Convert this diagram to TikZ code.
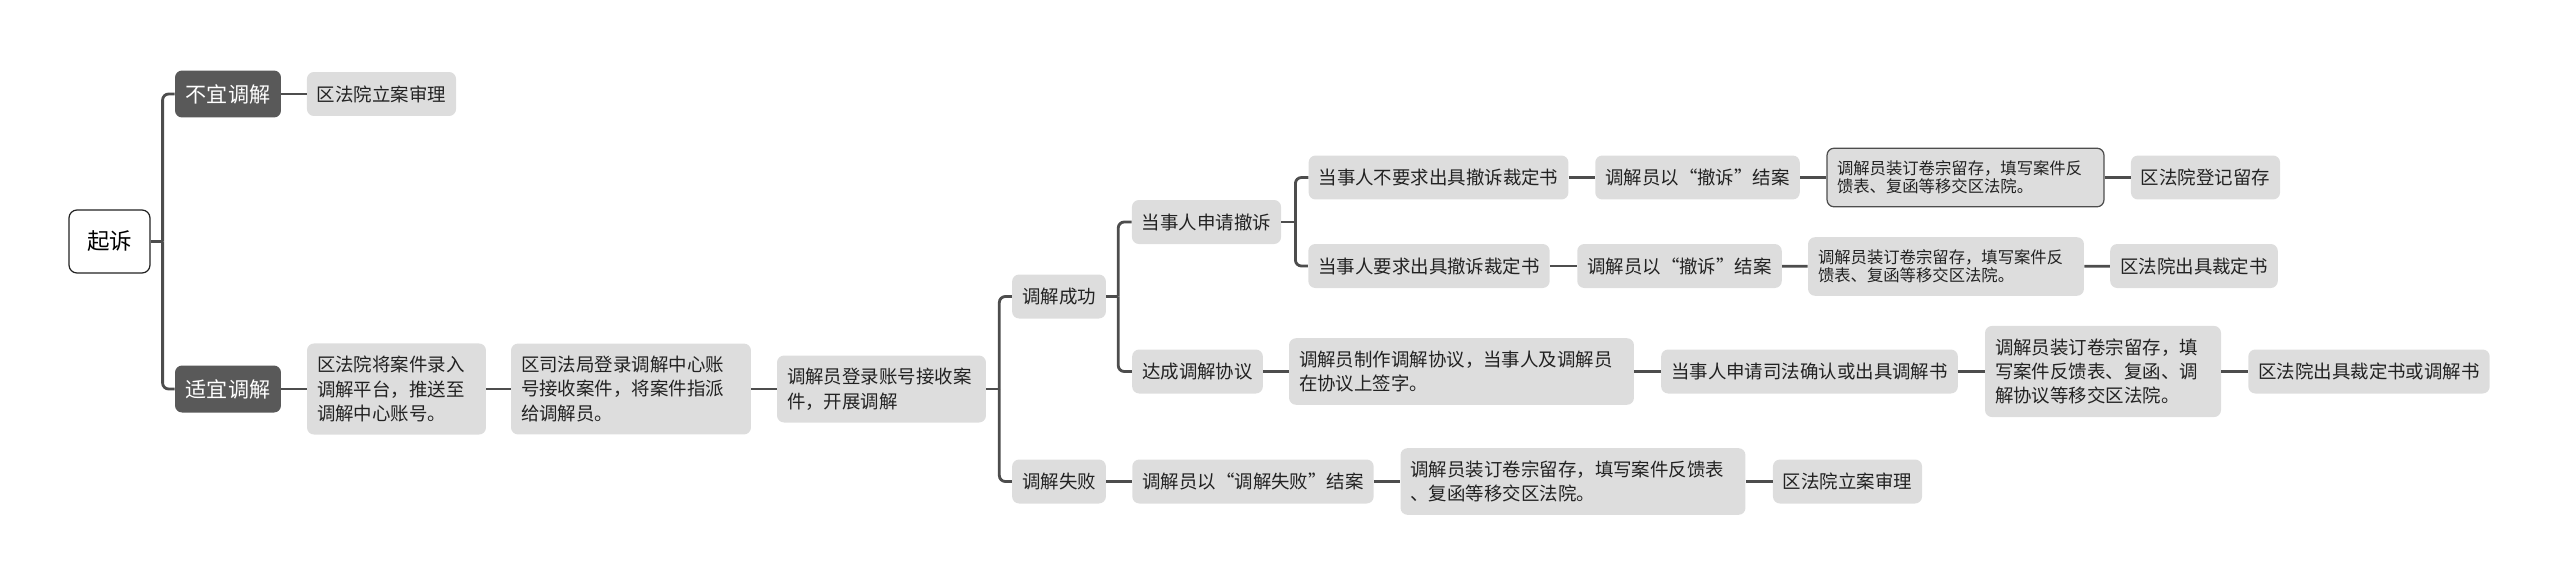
\documentclass[tikz,border=0pt]{standalone}
\usepackage{fontspec}
\setmainfont{Noto Sans CJK SC}
\usetikzlibrary{positioning}
\definecolor{NodeDark}{HTML}{595959}
\definecolor{NodeLight}{HTML}{DDDDDD}
\definecolor{LinkGray}{HTML}{4D4D4D}
\definecolor{TextDark}{HTML}{222222}

\begin{document}
\begin{tikzpicture}[
    x=0.02cm, y=-0.02cm,
    root/.style={draw=TextDark,fill=white,line width=0.7pt,rounded corners=0.16cm,
                 minimum width=1.62cm,minimum height=1.26cm,
                 font=\fontsize{12.8}{15}\selectfont},
    dk/.style={fill=NodeDark,text=white,rounded corners=0.14cm,
               minimum width=2.12cm,minimum height=0.94cm,
               font=\fontsize{12}{14}\selectfont},
    lt/.style={fill=NodeLight,text=TextDark,rounded corners=0.14cm,
               inner xsep=0.2cm,inner ysep=0.16cm,minimum height=0.88cm,
               font=\fontsize{10.5}{13.9}\selectfont},
    mlt/.style={lt,align=left,text width=#1,inner ysep=0.25cm},
    sm/.style={mlt=#1,font=\fontsize{9.3}{10.4}\selectfont},
    link/.style={LinkGray,line width=1.6pt},
    fork/.style={link,rounded corners=0.12cm}
  ]
  \useasboundingbox (0,0) rectangle (2560,585);

  % root and first split
  \node[root] (qs) at (109.5,241.5) {起诉};
  \node[dk] (bytj) at (228,94) {不宜调解};
  \node[dk] (sytj) at (228,389) {适宜调解};
  \node[lt] (larb) at (381.5,94) {区法院立案审理};

  % intake chain
  \node[mlt=3.18cm] (lr) at (396.5,389) {区法院将案件录入\\调解平台，推送至\\调解中心账号。};
  \node[mlt=4.4cm] (dl) at (631,389) {区司法局登录调解中心账\\号接收案件，将案件指派\\给调解员。};
  \node[mlt=3.78cm] (js) at (881.5,389) {调解员登录账号接收案\\件，开展调解};

  % outcome
  \node[lt] (cg) at (1059,296.5) {调解成功};
  \node[lt] (sb) at (1059,481.5) {调解失败};
  \node[lt] (cs) at (1206.5,222) {当事人申请撤诉};
  \node[lt] (xy) at (1197.5,371.5) {达成调解协议};

  % withdrawal rows
  \node[lt] (bys) at (1438.5,177.5) {当事人不要求出具撤诉裁定书};
  \node[lt] (ys) at (1429,266) {当事人要求出具撤诉裁定书};
  \node[lt] (ja1) at (1697.5,177.5) {调解员以“撤诉”结案};
  \node[lt] (ja2) at (1679.5,266) {调解员以“撤诉”结案};
  \node[sm=5.14cm,draw=LinkGray,line width=0.7pt] (zd1) at (1965.5,177.5)
    {调解员装订卷宗留存，填写案件反\\馈表、复函等移交区法院。};
  \node[sm=5.12cm] (zd2) at (1946,266.5)
    {调解员装订卷宗留存，填写案件反\\馈表、复函等移交区法院。};
  \node[lt] (djlc) at (2205.5,177.5) {区法院登记留存};
  \node[lt] (cjcd) at (2194,266) {区法院出具裁定书};

  % agreement row
  \node[mlt=6.5cm] (zz) at (1461.5,371.5) {调解员制作调解协议，当事人及调解员\\在协议上签字。};
  \node[lt] (sfqr) at (1809.5,371.5) {当事人申请司法确认或出具调解书};
  \node[mlt=4.32cm] (zd3) at (2103,371.5) {调解员装订卷宗留存，填\\写案件反馈表、复函、调\\解协议等移交区法院。};
  \node[lt] (cjtj) at (2369,371.5) {区法院出具裁定书或调解书};

  % failure row
  \node[lt] (ja3) at (1253,481.5) {调解员以“调解失败”结案};
  \node[mlt=6.5cm] (zd4) at (1573,481.5) {调解员装订卷宗留存，填写案件反馈表\\、复函等移交区法院。};
  \node[lt] (larb2) at (1847.5,481.5) {区法院立案审理};

  % forks
  \draw[link] (qs.east) -- ++(12,0) coordinate (t1);
  \draw[fork] (t1) |- (bytj.west); \draw[fork] (t1) |- (sytj.west);
  \draw[link] (js.east) -- ++(13,0) coordinate (t2);
  \draw[fork] (t2) |- (cg.west); \draw[fork] (t2) |- (sb.west);
  \draw[link] (cg.east) -- ++(12,0) coordinate (t3);
  \draw[fork] (t3) |- (cs.west); \draw[fork] (t3) |- (xy.west);
  \draw[link] (cs.east) -- ++(14,0) coordinate (t4);
  \draw[fork] (t4) |- (bys.west); \draw[fork] (t4) |- (ys.west);

  % straight links
  \draw[link] (bytj) -- (larb);
  \draw[link] (sytj) -- (lr); \draw[link] (lr) -- (dl); \draw[link] (dl) -- (js);
  \draw[link] (bys) -- (ja1); \draw[link] (ja1) -- (zd1); \draw[link] (zd1) -- (djlc);
  \draw[link] (ys) -- (ja2); \draw[link] (ja2) -- (zd2); \draw[link] (zd2) -- (cjcd);
  \draw[link] (xy) -- (zz); \draw[link] (zz) -- (sfqr);
  \draw[link] (sfqr) -- (zd3); \draw[link] (zd3) -- (cjtj);
  \draw[link] (sb) -- (ja3); \draw[link] (ja3) -- (zd4); \draw[link] (zd4) -- (larb2);
\end{tikzpicture}
\end{document}
